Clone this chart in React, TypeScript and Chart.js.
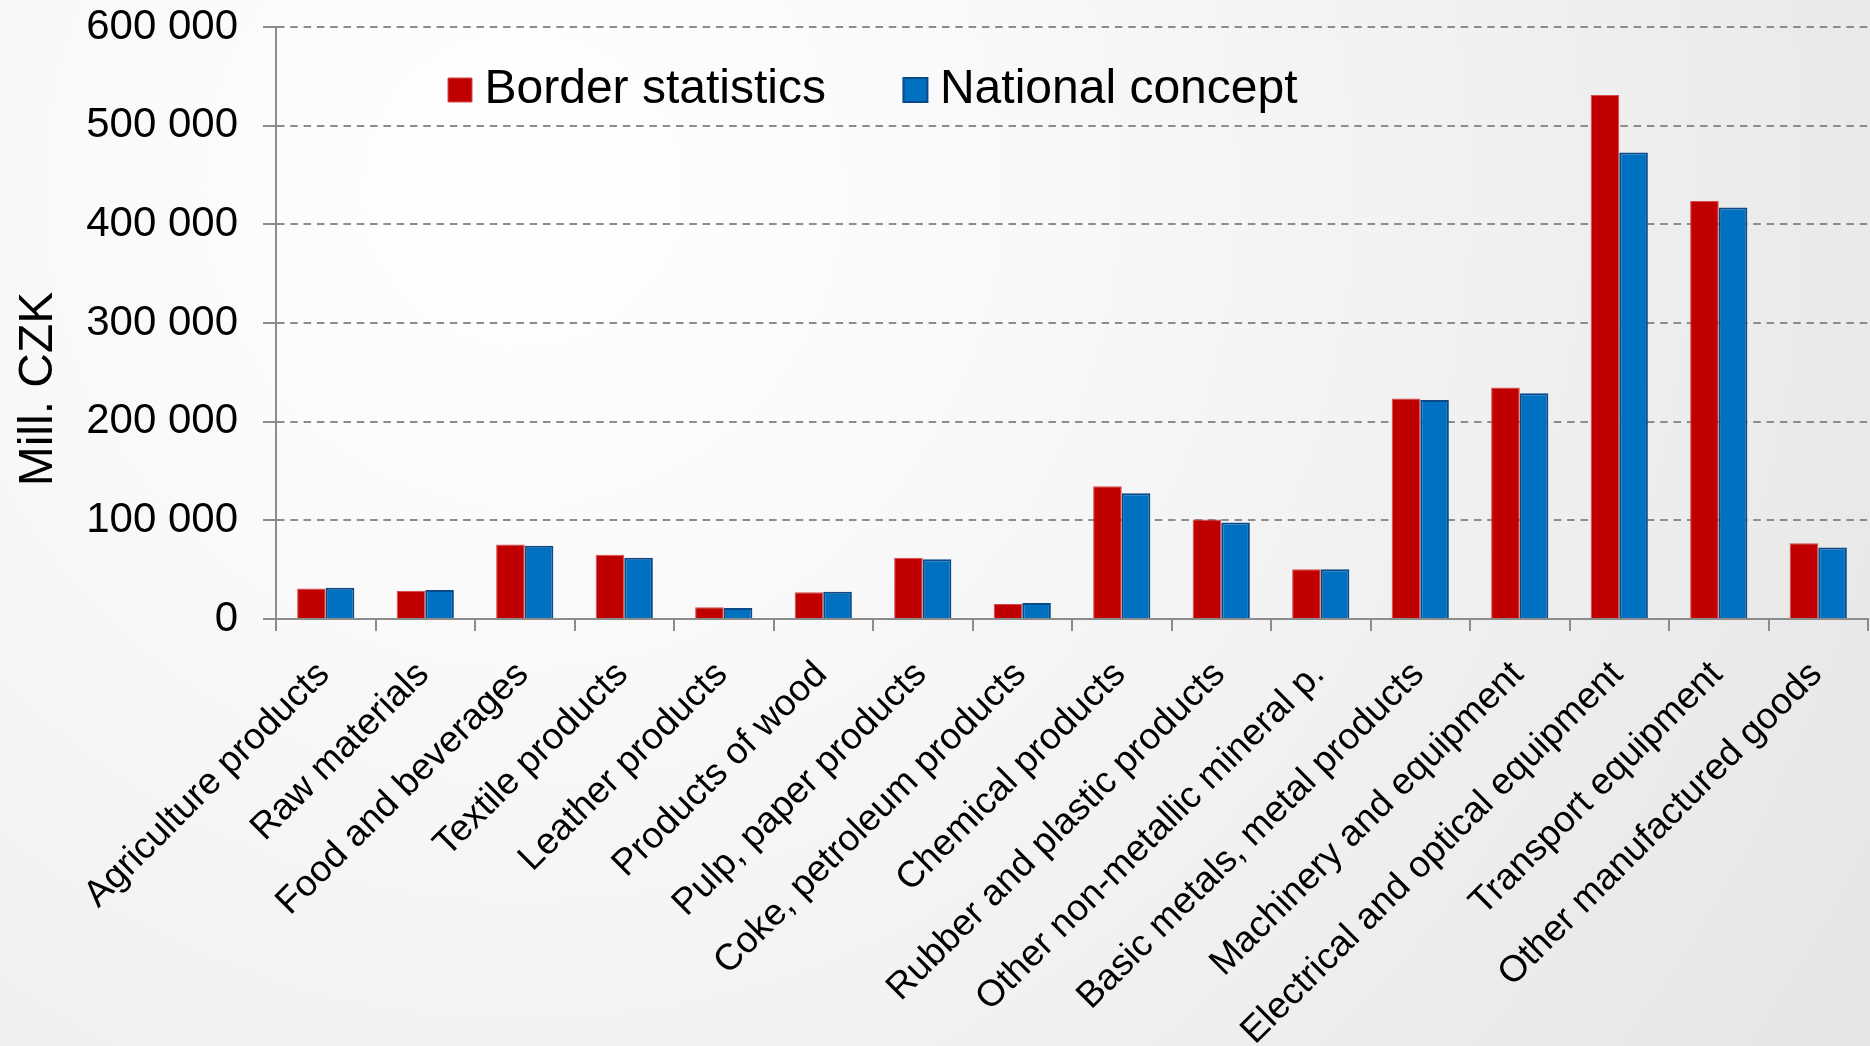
import React, { useEffect, useRef } from 'react';
import { Chart, registerables } from 'chart.js';

Chart.register(...registerables);

const categories: string[] = [
  'Agriculture products',
  'Raw materials',
  'Food and beverages',
  'Textile products',
  'Leather products',
  'Products of wood',
  'Pulp, paper products',
  'Coke, petroleum products',
  'Chemical products',
  'Rubber and plastic products',
  'Other non-metallic mineral p.',
  'Basic metals, metal products',
  'Machinery and equipment',
  'Electrical and optical equipment',
  'Transport equipment',
  'Other manufactured goods',
];

const borderStatistics: number[] = [
  31000, 28500, 75500, 65000, 12000, 27000, 62000, 15300,
  134500, 100800, 50300, 223500, 234700, 531000, 423700, 76800,
];

const nationalConcept: number[] = [
  31700, 29400, 74300, 62200, 11100, 27700, 60500, 16100,
  127500, 97900, 50300, 222000, 228700, 472800, 417000, 72400,
];

const seriesNames: string[] = ['Border statistics', 'National concept'];
const yAxisTitle = 'Mill. CZK';
const yMin = 0;
const yMax = 600000;
const yStep = 100000;

const FONT = '"Liberation Sans", Arial, Helvetica, sans-serif';
const AXIS_GRAY = '#8c8c8c';

function formatThousands(v: number): string {
  return String(v).replace(/\B(?=(\d{3})+(?!\d))/g, ' ');
}

export default function App() {
  const canvasRef = useRef<HTMLCanvasElement | null>(null);

  useEffect(() => {
    const canvas = canvasRef.current;
    if (!canvas) return;

    // The chartArea legend is laid out in columns; limiting its height puts
    // each item in its own column so the two items sit side by side.
    const legendPlace = {
      id: 'legendPlace',
      afterLayout(chart: any) {
        const lg = chart.legend;
        if (!lg) return;
        lg.maxWidth = 3000;
        lg.maxHeight = 100;
        lg.fit();
        lg.left = 370.5;
        lg.right = 1870;
        lg.top = -23;
        lg.bottom = 173;
      },
    };

    const yTitlePlugin = {
      id: 'yTitlePlugin',
      afterDraw(chart: any) {
        const ctx = chart.ctx;
        ctx.save();
        ctx.translate(52, 389);
        ctx.rotate(-Math.PI / 2);
        ctx.font = `48px ${FONT}`;
        ctx.fillStyle = '#000';
        ctx.textAlign = 'center';
        ctx.textBaseline = 'alphabetic';
        ctx.fillText(yAxisTitle, 0, 0);
        ctx.restore();
      },
    };

    const chart = new Chart(canvas, {
      type: 'bar',
      data: {
        labels: categories,
        datasets: [
          {
            label: seriesNames[0],
            data: borderStatistics,
            backgroundColor: '#C00000',
            borderColor: '#d84a4a',
            borderWidth: 1,
            categoryPercentage: 0.575,
            barPercentage: 1.0,
          },
          {
            label: seriesNames[1],
            data: nationalConcept,
            backgroundColor: '#0070C0',
            borderColor: '#0b4a86',
            borderWidth: 2,
            categoryPercentage: 0.575,
            barPercentage: 1.0,
          },
        ],
      },
      options: {
        responsive: false,
        animation: false,
        devicePixelRatio: 1,
        layout: { padding: { top: 27, right: 2, left: 0, bottom: 0 } },
        plugins: {
          tooltip: { enabled: false },
          title: { display: false },
          legend: {
            display: true,
            position: 'chartArea',
            align: 'start',
            labels: {
              usePointStyle: true,
              pointStyle: 'rect',
              boxWidth: 1,
              boxHeight: 24,
              padding: 89,
              color: '#000',
              font: { family: FONT, size: 48 },
            },
          },
        },
        scales: {
          x: {
            afterFit: (s: any) => {
              s.height = 427;
              s.paddingLeft = 0;
              s.paddingRight = 0;
            },
            ticks: {
              autoSkip: false,
              maxRotation: 45,
              minRotation: 45,
              padding: 22,
              labelOffset: -2,
              color: '#000',
              font: { family: FONT, size: 37 },
            },
            grid: {
              display: true,
              drawOnChartArea: false,
              drawTicks: true,
              tickLength: 12,
              color: AXIS_GRAY,
              lineWidth: 2,
              tickColor: AXIS_GRAY,
              tickWidth: 2,
              offset: true,
            },
            border: { display: true, color: AXIS_GRAY, width: 2 },
          },
          y: {
            min: yMin,
            max: yMax,
            afterFit: (s: any) => {
              s.width = 276;
              s.paddingTop = 0;
              s.paddingBottom = 0;
            },
            ticks: {
              stepSize: yStep,
              padding: 25,
              color: '#000',
              font: { family: FONT, size: 42 },
              callback: (v: any) => formatThousands(Number(v)),
            },
            grid: {
              display: true,
              drawOnChartArea: true,
              drawTicks: true,
              tickLength: 13,
              color: AXIS_GRAY,
              lineWidth: 2,
              tickColor: AXIS_GRAY,
              tickWidth: 2,
              tickBorderDash: [],
            },
            border: { display: true, color: AXIS_GRAY, width: 2, dash: [7.5, 5.8] },
          },
        },
      },
      plugins: [legendPlace, yTitlePlugin],
    } as any);

    return () => {
      chart.destroy();
    };
  }, []);

  return (
    <div
      style={{
        position: 'fixed',
        left: 0,
        top: 0,
        width: 1870,
        height: 1046,
        background:
          'radial-gradient(circle farthest-corner at 28% 18%, #ffffff 0%, #f9f9f9 30%, #f0f0f0 63%, #e9e9e9 87%, #e5e5e5 100%)',
      }}
    >
      <canvas ref={canvasRef} width={1870} height={1046} style={{ display: 'block' }} />
    </div>
  );
}
